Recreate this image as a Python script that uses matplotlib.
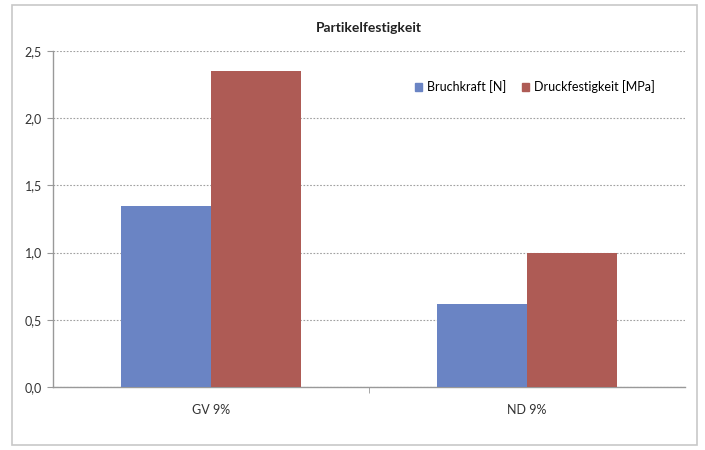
import matplotlib
matplotlib.use("Agg")
import matplotlib.pyplot as plt
from matplotlib.patches import Rectangle, Patch
import numpy as np

categories = ["GV 9%", "ND 9%"]
series_names = ["Bruchkraft [N]", "Druckfestigkeit [MPa]"]
bruchkraft = [1.35, 0.62]
druckfestigkeit = [2.35, 1.00]
yticks = [0.0, 0.5, 1.0, 1.5, 2.0, 2.5]
ytick_labels = ["0,0", "0,5", "1,0", "1,5", "2,0", "2,5"]

colors = ["#6A84C4", "#AE5B55"]

plt.rcParams['font.family'] = ['Lato', 'DejaVu Sans']

fig = plt.figure(figsize=(7.05, 4.5), dpi=100)
fig.patch.set_facecolor("white")
fig.add_artist(Rectangle((12/705, 1-445/450), 685/705, 440/450, transform=fig.transFigure,
                         fill=False, edgecolor="#c8c8c8", linewidth=1.2))
ax = fig.add_axes([53/705, 1-387/450, 632/705, 336/450])

x = np.arange(len(categories))
w = 1/3.5
ax.bar(x - w/2, bruchkraft, w, color=colors[0], label=series_names[0], zorder=3)
ax.bar(x + w/2, druckfestigkeit, w, color=colors[1], label=series_names[1], zorder=3)

ax.set_xlim(-0.5, 1.5)
ax.set_ylim(0, 2.5)
ax.set_yticks(yticks)
ax.set_yticklabels(ytick_labels, fontsize=9, color="#333333")
ax.set_xticks(x)
ax.set_xticklabels(categories, fontsize=9, color="#333333")
ax.tick_params(axis='x', length=0, pad=12)
ax.set_xticks([0.5], minor=True)
ax.tick_params(axis='x', which='minor', length=4, color="#999999")
ax.tick_params(axis='y', length=4, color="#999999", pad=4)
ax.yaxis.grid(True, linestyle=(0, (1.5, 1.5)), color="#a0a0a0", linewidth=0.8, zorder=0)
for s in ["top", "right"]:
    ax.spines[s].set_visible(False)
for s in ["left", "bottom"]:
    ax.spines[s].set_color("#999999")
    ax.spines[s].set_linewidth(1.0)

fig.text(369/705, 1-28/450, "Partikelfestigkeit", ha="center", va="center",
         fontsize=10, fontweight="bold", color="#222222")

handles = [Patch(color=c, label=n) for c, n in zip(colors, series_names)]
ax.legend(handles=handles, loc="center", bbox_to_anchor=(535/705, 1-87/450),
          bbox_transform=fig.transFigure, ncol=2, frameon=False, fontsize=9,
          handlelength=0.6, handleheight=0.6, handletextpad=0.4, columnspacing=1.2)

fig.savefig("out.png", dpi=100, facecolor="white")
